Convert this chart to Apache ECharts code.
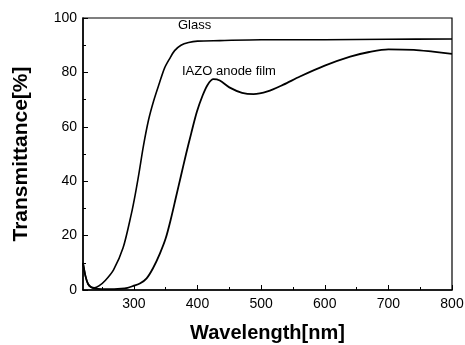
<!DOCTYPE html>
<html>
<head>
<meta charset="utf-8">
<script src="https://cdn.jsdelivr.net/npm/echarts@6/dist/echarts.min.js"></script>
<style>html,body{margin:0;padding:0;background:#fff}#c{width:465px;height:345px}</style>
</head>
<body>
<div id="c"></div>
<script>
const glassX = [220,224,228,233,238,245,255,268,283,296,302,308,315,323,331,340,348,356,364,374,386,400,435,500,600,700,800];
const glassY = [10,5,2.2,1,0.8,1.5,3.5,7.4,15.5,28,35,43,53,62.5,69.5,76,81.5,85,88,90,91,91.5,91.7,92,92,92.2,92.3];
const filmX = [220,224,228,233,240,260,280,290,299,310,320,330,341,350,358,366,374,382,390,399,408,416,425,435,450,470,488,510,535,561,600,640,670,700,740,770,800];
const filmY = [10,5,2.2,1,0.5,0.3,0.5,0.8,1.5,2.5,4.3,8,13.5,19,26,34,42,50,57.5,65.5,71.5,75.5,77.5,77,74.5,72.5,72,73,75.5,78.5,82.5,85.8,87.5,88.5,88.3,87.6,86.8];
const xMajor = [300,400,500,600,700,800];
const xMinor = [250,350,450,550,650,750];
const yTicks = [0,20,40,60,80,100];

const chart = echarts.init(document.getElementById('c'));
const font = 'Liberation Sans, Arial, sans-serif';
const pairs = (xs, ys) => xs.map((x, i) => [x, ys[i]]);
chart.setOption({
  animation: false,
  backgroundColor: '#fff',
  grid: {left: 83, right: 13, top: 18, bottom: 55, outerBoundsMode: 'none', containLabel: false,
    show: true, borderColor: '#000', borderWidth: 1.2, backgroundColor: 'transparent'},
  xAxis: [{
    type: 'value', min: 220, max: 800,
    name: 'Wavelength[nm]', nameLocation: 'middle', nameGap: 33,
    nameTextStyle: {fontFamily: font, fontWeight: 'bold', fontSize: 20, color: '#000'},
    axisLine: {show: true, lineStyle: {color: '#000', width: 1.5}},
    axisTick: {show: true, inside: true, length: 5, customValues: xMajor, lineStyle: {color: '#000'}},
    axisLabel: {customValues: xMajor, fontFamily: font, fontSize: 14, color: '#000', margin: 7},
    splitLine: {show: false}
  }, {
    type: 'value', min: 220, max: 800, position: 'bottom',
    axisLine: {show: false},
    axisTick: {show: true, inside: true, length: 3, customValues: xMinor, lineStyle: {color: '#000'}},
    axisLabel: {show: false},
    splitLine: {show: false}
  }],
  yAxis: {
    type: 'value', min: 0, max: 100, interval: 20,
    name: 'Transmittance[%]', nameLocation: 'middle', nameGap: 51,
    nameTextStyle: {fontFamily: font, fontWeight: 'bold', fontSize: 21, color: '#000'},
    axisLine: {show: true, lineStyle: {color: '#000', width: 1.5}},
    axisTick: {show: true, inside: true, length: 5, lineStyle: {color: '#000'}},
    minorTick: {show: true, splitNumber: 2, length: 3, lineStyle: {color: '#000'}},
    axisLabel: {fontFamily: font, fontSize: 14, color: '#000', margin: 6,
      customValues: yTicks},
    splitLine: {show: false}
  },
  series: [{
    name: 'Glass', type: 'line', data: pairs(glassX, glassY), smooth: 0.3,
    symbol: 'none', lineStyle: {color: '#000', width: 1.6}
  }, {
    name: 'IAZO anode film', type: 'line', data: pairs(filmX, filmY), smooth: 0.3,
    symbol: 'none', lineStyle: {color: '#000', width: 1.8}
  }],
  graphic: [
    {type: 'text', left: 178, top: 19, style: {text: 'Glass', fontFamily: font, fontSize: 13, fill: '#000'}},
    {type: 'text', left: 182, top: 65, style: {text: 'IAZO anode film', fontFamily: font, fontSize: 13, fill: '#000'}}
  ]
});
</script>
</body>
</html>
